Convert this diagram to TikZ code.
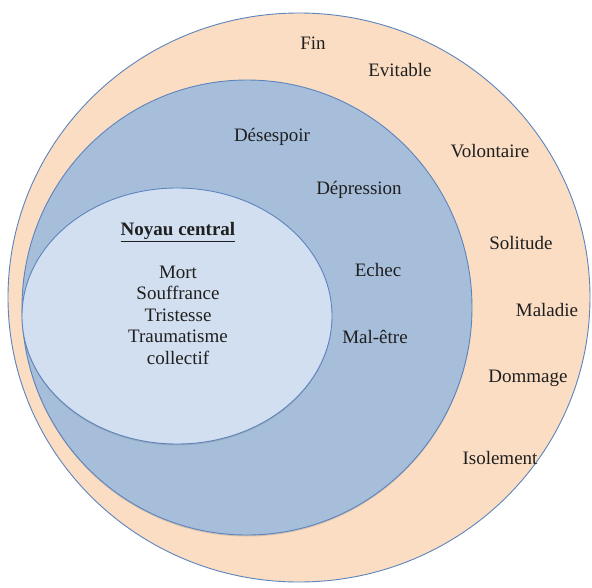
\documentclass[tikz,border=0pt]{standalone}
\usepackage{fontspec}
\setmainfont{Liberation Serif}
\usepackage{tikz}
\usetikzlibrary{shadows}

\definecolor{peach}{RGB}{250,221,194}
\definecolor{midblue}{RGB}{167,190,218}
\definecolor{paleblue}{RGB}{210,223,240}
\definecolor{rimblue}{RGB}{92,132,190}

\tikzset{
    zone/.style={draw=rimblue, line width=0.9pt},
    shade/.style={drop shadow={opacity=0.3, shadow xshift=0pt, shadow yshift=-1.5pt}},
    word/.style={font=\fontsize{19}{21.5}\selectfont, text=black!88, inner sep=1pt}
}

\begin{document}
\begin{tikzpicture}[x=1pt,y=-1pt]
    \useasboundingbox (0,0) rectangle (592,587);
    \fill[white] (0,0) rectangle (592,587);
    \draw[zone, fill=peach] (299,297.5) ellipse [x radius=291pt, y radius=284.5pt];
    \draw[zone, fill=midblue, shade] (247,307.5) ellipse [x radius=225pt, y radius=227.5pt];
    \draw[zone, fill=paleblue, shade] (177,316) ellipse [x radius=155pt, y radius=128pt];
    % outer ring
    \node[word] (fin) at (313,43) {Fin};
    \node[word] (evitable) at (400,70) {Evitable};
    \node[word] (volontaire) at (490,151) {Volontaire};
    \node[word] (solitude) at (521,243) {Solitude};
    \node[word] (maladie) at (547,310) {Maladie};
    \node[word] (dommage) at (528,378) {Dommage};
    \node[word] (isolement) at (500,458) {Isolement};
    % middle ring
    \node[word] (desespoir) at (272,137) {Désespoir};
    \node[word] (depression) at (359,190) {Dépression};
    \node[word] (echec) at (378,270) {Echec};
    \node[word] (maletre) at (375,337) {Mal-être};
    % core
    \node[word] (noyau) at (178,232) {\textbf{\underline{Noyau central}}};
    \node[word, align=center] (core) at (178,315) {Mort\\Souffrance\\Tristesse\\Traumatisme\\collectif};
\end{tikzpicture}
\end{document}
